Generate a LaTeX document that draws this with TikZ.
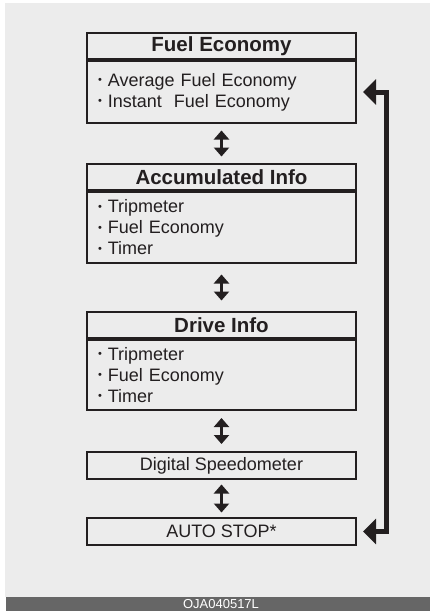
\documentclass[tikz,border=0pt]{standalone}
\usepackage{fontspec}
\setmainfont{Liberation Sans}
\usetikzlibrary{arrows.meta}
\definecolor{ink}{HTML}{231F20}
\definecolor{panelgray}{HTML}{ECECEC}
\definecolor{bargray}{HTML}{666666}
\newcommand{\itemdot}{\raisebox{2.5pt}{\fontsize{11}{11}\selectfont\textbullet}\ }
\tikzset{
  headbox/.style={draw=ink, line width=2pt, minimum width=269pt, minimum height=26pt,
    inner sep=0pt, text=ink, font=\fontsize{20.5}{22}\selectfont\bfseries},
  listbox/.style={draw=ink, line width=2pt, inner xsep=11pt, inner ysep=0pt,
    text width=247pt, align=left, text=ink, font=\fontsize{18}{21}\selectfont},
  plainbox/.style={draw=ink, line width=2pt, minimum width=269pt, minimum height=27pt,
    inner sep=0pt, text=ink, font=\fontsize{18}{20}\selectfont},
  updown/.style={draw=ink, line width=3pt,
    {Triangle[width=15pt,length=9pt]}-{Triangle[width=15pt,length=9pt]}},
  loopback/.style={draw=ink, line width=5pt,
    {Triangle[width=25pt,length=13pt]}-{Triangle[width=25pt,length=13pt]},
    shorten <=6pt, shorten >=6pt}
}
\begin{document}
\begin{tikzpicture}[x=1pt, y=-1pt]
  \useasboundingbox (0,0) rectangle (430,611);
  % Panel and caption bar
  \fill[white] (0,0) rectangle (430,611);
  \fill[panelgray] (5,3) rectangle (430,597);
  \fill[bargray] (6,597) rectangle (430,611);
  % Display modes
  \node[headbox, anchor=north] (fuelhead) at (221.5,32) {Fuel Economy};
  \node[listbox, minimum height=62pt, anchor=north] (fuelbody) at (fuelhead.south)
    {\itemdot Average Fuel Economy\\ \itemdot Instant~ Fuel Economy};
  \node[headbox, anchor=north] (accuhead) at (221.5,163) {Accumulated Info};
  \node[listbox, minimum height=71pt, anchor=north] (accubody) at (accuhead.south)
    {\itemdot Tripmeter\\ \itemdot Fuel Economy\\ \itemdot Timer};
  \node[headbox, anchor=north] (drivehead) at (221.5,311) {Drive Info};
  \node[listbox, minimum height=70pt, anchor=north] (drivebody) at (drivehead.south)
    {\itemdot Tripmeter\\ \itemdot Fuel Economy\\ \itemdot Timer};
  \node[plainbox, anchor=north] (speedo) at (221.5,451) {Digital Speedometer};
  \node[plainbox, anchor=north] (autostop) at (221.5,517) {AUTO STOP*};
  % Switching arrows
  \draw[updown, shorten <=6.5pt, shorten >=6.5pt] (fuelbody) -- (accuhead);
  \draw[updown, shorten <=10.5pt, shorten >=10.5pt] (accubody) -- (drivehead);
  \draw[updown, shorten <=7pt, shorten >=7pt] (drivebody) -- (speedo);
  \draw[updown, shorten <=4.5pt, shorten >=4.5pt] (speedo) -- (autostop);
  % Return path
  \coordinate (rail) at (386,0);
  \draw[loopback] (fuelbody.east) -- (fuelbody.east -| rail)
    -- (autostop.east -| rail) -- (autostop.east);
  % Figure code
  \node[text=white, font=\fontsize{13}{13}\selectfont] (figcode) at (221,604) {OJA040517L};
\end{tikzpicture}
\end{document}
